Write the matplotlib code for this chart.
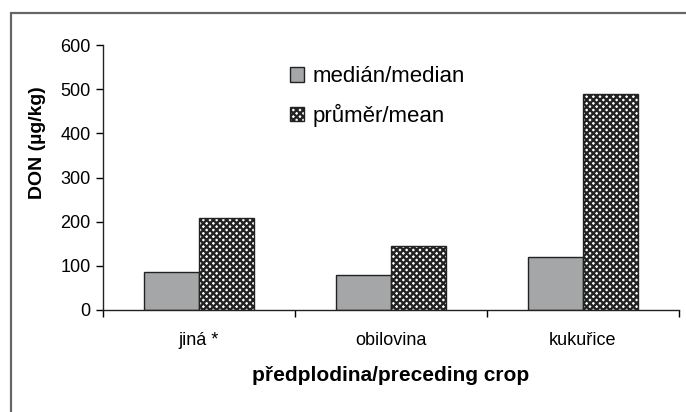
import matplotlib
matplotlib.use("Agg")
import matplotlib.pyplot as plt
from matplotlib.patches import Patch, Rectangle
import numpy as np

plt.rcParams['font.family'] = ['Liberation Sans', 'DejaVu Sans']
plt.rcParams['hatch.linewidth'] = 1.7

categories = ["jiná *", "obilovina", "kukuřice"]
median_vals = [87, 80, 119]
mean_vals = [208, 146, 489]
series_labels = ["medián/median", "průměr/mean"]
y_ticks = [0, 100, 200, 300, 400, 500, 600]

W, H = 686, 412
fig = plt.figure(figsize=(W / 100, H / 100), dpi=100)
ax = fig.add_axes([103 / W, 1 - 310 / H, (679 - 103) / W, (310 - 45) / H])

# outer frame (extends beyond right/bottom edges)
fig.patches.append(Rectangle((11 / W, -0.1), 1.0, 1 - 13 / H + 0.1,
                             transform=fig.transFigure, fill=False,
                             edgecolor='#666666', linewidth=1.6))

x = np.arange(len(categories)) + 0.5
bw = 0.286
gray = '#a4a6a7'
hatch = 'xxxxx'
ax.bar(x - bw / 2, median_vals, bw, color=gray, edgecolor='#222222', linewidth=1.0)
ax.bar(x + bw / 2, mean_vals, bw, color='white', edgecolor='#222222', linewidth=1.0,
       hatch=hatch)

ax.set_xlim(0, 3)
ax.set_ylim(0, 600)
ax.set_yticks(y_ticks)
ax.tick_params(axis='y', labelsize=13, length=5, width=1, direction='out', pad=4)
ax.set_xticks([0, 1, 2, 3])
ax.set_xticklabels([])
ax.tick_params(axis='x', which='major', length=5, width=1, direction='out')
ax.set_xticks(x, minor=True)
ax.set_xticklabels(categories, minor=True)
ax.tick_params(axis='x', which='minor', length=0, labelsize=13, pad=16)

for s in ['top', 'right']:
    ax.spines[s].set_visible(False)
for s in ['left', 'bottom']:
    ax.spines[s].set_linewidth(1.0)
    ax.spines[s].set_color('#222222')

ax.set_ylabel("DON (µg/kg)", fontsize=14, fontweight='bold')
ax.yaxis.set_label_coords(-0.099, (310 - 143) / 265)
ax.set_xlabel("předplodina/preceding crop", fontsize=15, fontweight='bold', labelpad=12)

handles = [Patch(facecolor=gray, edgecolor='#222222', linewidth=1.0),
           Patch(facecolor='white', edgecolor='#222222', linewidth=1.0, hatch=hatch)]
fig.legend(handles, series_labels, loc='upper left',
           bbox_to_anchor=(290 / W, 1 - 66 / H), frameon=False, fontsize=16,
           handlelength=0.65, handleheight=0.65, handletextpad=0.35,
           labelspacing=0.75, borderaxespad=0, borderpad=0)

fig.savefig("out.png", dpi=100)
